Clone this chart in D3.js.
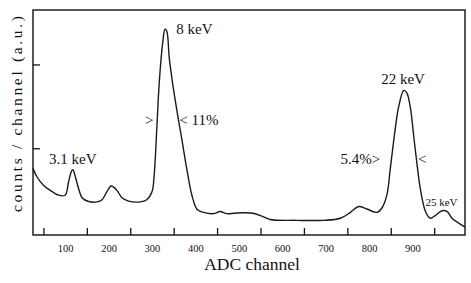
<!DOCTYPE html>
<html>
<head>
<meta charset="utf-8">
<script src="https://cdn.jsdelivr.net/npm/d3@7"></script>
<style>
  body { margin: 0; background: #fff; }
  svg text { font-family: 'Liberation Serif', 'DejaVu Serif', serif; fill: #111; }
</style>
</head>
<body>
<svg id="chart" width="471" height="283"></svg>
<script>
// spectrum: ADC channel vs counts/channel (a.u.)
const channels = [26, 35, 50, 65, 85, 100, 108, 115, 118, 123, 131, 139, 154, 173, 185, 196,
  206, 219, 231, 246, 273, 288, 300, 305, 311, 317, 325, 330, 334, 340, 350, 361, 369, 380,
  392, 404, 419, 442, 457, 472, 490, 510, 533, 553, 572, 634, 695, 734, 757, 776, 795, 818,
  830, 841, 849, 860, 868, 880, 887, 895, 903, 910, 918, 930, 941, 953, 968, 980, 991, 1010, 1021]
const counts = [0.76, 0.66, 0.56, 0.50, 0.44, 0.44, 0.60, 0.73, 0.745, 0.67, 0.52, 0.41, 0.365,
  0.36, 0.385, 0.48, 0.55, 0.50, 0.41, 0.37, 0.36, 0.385, 0.48, 0.67, 1.22, 1.80, 2.27, 2.42,
  2.40, 2.07, 1.69, 1.34, 1.10, 0.76, 0.44, 0.27, 0.235, 0.22, 0.245, 0.22, 0.225, 0.23, 0.225,
  0.19, 0.15, 0.14, 0.14, 0.165, 0.235, 0.305, 0.275, 0.235, 0.29, 0.44, 0.76, 1.22, 1.49, 1.69,
  1.66, 1.49, 1.14, 0.83, 0.52, 0.245, 0.165, 0.20, 0.255, 0.245, 0.165, 0.095, 0.06]

const tickLabels = [100, 200, 300, 400, 500, 600, 700, 800, 900]
const xTicks = [50, 150, 250, 350, 450, 550, 650, 750, 850, 950]
const yTicks = [1, 2]

const labelText = ['8 keV', '3.1 keV', '>', '< 11%', '22 keV', '5.4%>', '<', '25 keV']
const labelChannel = [356, 63, 284, 363, 828, 734, 913, 930]
const labelCount = [2.36, 0.815, 1.28, 1.28, 1.77, 0.815, 0.815, 0.315]

const margin = { top: 10, right: 6, bottom: 48, left: 33 }
const width = 471 - margin.left - margin.right
const height = 283 - margin.top - margin.bottom

const x = d3.scaleLinear().domain([26, 1021]).range([0, width])
const y = d3.scaleLinear().domain([-0.035, 2.65]).range([height, 0])

const svg = d3.select('#chart')
const g = svg.append('g')
  .attr('transform', 'translate(' + margin.left + ',' + margin.top + ')')

// frame
g.append('rect')
  .attr('width', width)
  .attr('height', height)
  .attr('fill', 'none')
  .attr('stroke', '#111')
  .attr('stroke-width', 1.4)

// inward ticks on bottom, unlabelled
g.append('g')
  .attr('transform', 'translate(0,' + height + ')')
  .call(d3.axisTop(x).tickValues(xTicks).tickSize(7).tickFormat(''))
  .call(a => a.select('.domain').remove())
  .selectAll('line').attr('stroke', '#111').attr('stroke-width', 1.3)

// labels sit between the tick marks
g.append('g')
  .attr('transform', 'translate(0,' + height + ')')
  .call(d3.axisBottom(x).tickValues(tickLabels).tickSize(0).tickPadding(10))
  .call(a => a.select('.domain').remove())
  .selectAll('text')
  .attr('font-size', 10.5)
  .attr('fill', '#111')
  .style('font-family', "'Liberation Serif', serif")

// inward ticks on left
g.append('g')
  .call(d3.axisRight(y).tickValues(yTicks).tickSize(7).tickFormat(''))
  .call(a => a.select('.domain').remove())
  .selectAll('line').attr('stroke', '#111').attr('stroke-width', 1.3)

const line = d3.line()
  .x((d, i) => x(channels[i]))
  .y(d => y(d))
  .curve(d3.curveCatmullRom.alpha(0.5))

g.append('path')
  .datum(counts)
  .attr('d', line)
  .attr('fill', 'none')
  .attr('stroke', '#1a1a1a')
  .attr('stroke-width', 1.4)

g.selectAll('.note')
  .data(labelText)
  .enter().append('text')
  .attr('class', 'note')
  .attr('x', (d, i) => x(labelChannel[i]))
  .attr('y', (d, i) => y(labelCount[i]))
  .attr('font-size', d => d === '25 keV' ? 11 : 15)
  .text(d => d)

svg.append('text')
  .attr('x', 252)
  .attr('y', 270)
  .attr('text-anchor', 'middle')
  .attr('font-size', 17.5)
  .text('ADC channel')

svg.append('text')
  .attr('transform', 'translate(22,114) rotate(-90)')
  .attr('text-anchor', 'middle')
  .attr('font-size', 15.5)
  .attr('textLength', 196)
  .attr('lengthAdjust', 'spacing')
  .text('counts / channel (a.u.)')
</script>
</body>
</html>
